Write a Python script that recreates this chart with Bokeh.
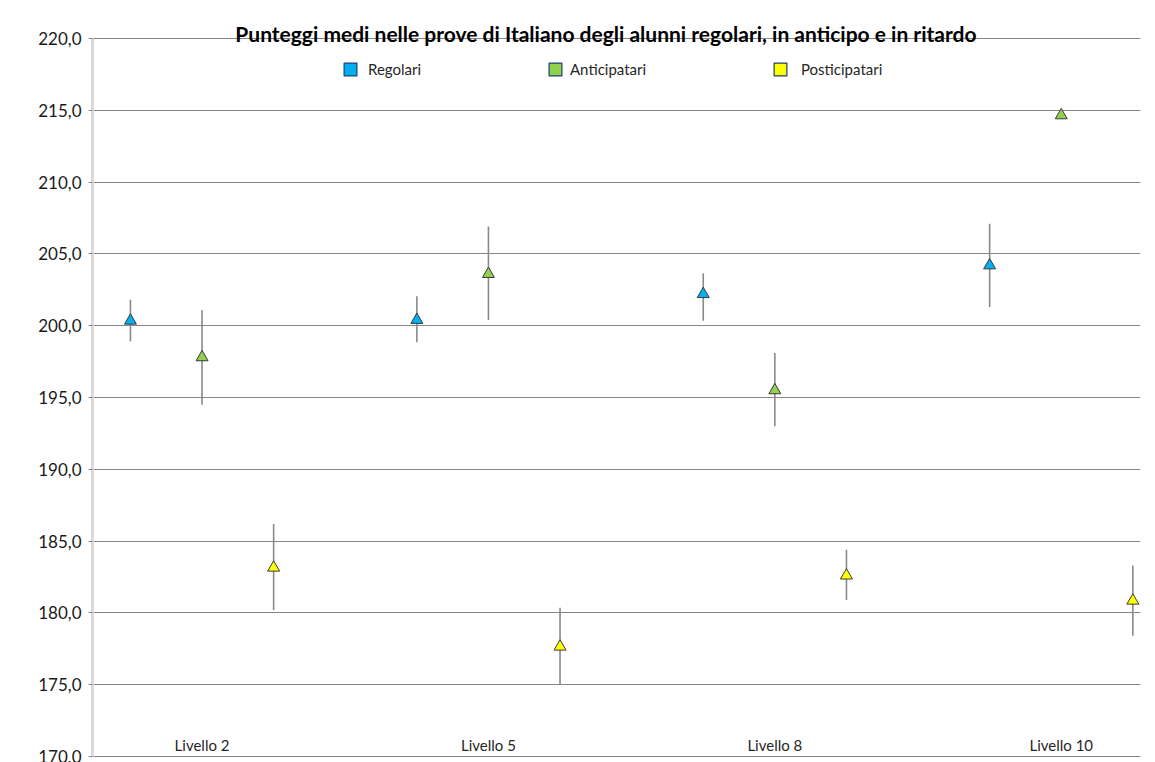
from bokeh.plotting import figure
from bokeh.models import (ColumnDataSource, Range1d, FixedTicker, CustomJSTickFormatter,
                          Legend, LegendItem, Label)
from bokeh.core.properties import value
from bokeh.embed import file_html
from bokeh.resources import INLINE

# ---- data ----
levels = ["Livello 2", "Livello 5", "Livello 8", "Livello 10"]
series = ["Regolari", "Anticipatari", "Posticipatari"]
colors = ["#00B0F0", "#92D050", "#FFFF00"]

regolari_mean = [200.35, 200.4, 202.2, 204.2]
regolari_lo = [198.9, 198.85, 200.35, 201.3]
regolari_hi = [201.8, 202.05, 203.65, 207.1]

anticipatari_mean = [197.8, 203.6, 195.5, 214.65]
anticipatari_lo = [194.5, 200.4, 193.0, 214.55]
anticipatari_hi = [201.1, 206.9, 198.1, 214.75]

posticipatari_mean = [183.15, 177.65, 182.6, 180.85]
posticipatari_lo = [180.2, 175.0, 180.9, 178.4]
posticipatari_hi = [186.2, 180.35, 184.4, 183.3]

y_ticks = [170, 175, 180, 185, 190, 195, 200, 205, 210, 215, 220]

title_text = "Punteggi medi nelle prove di Italiano degli alunni regolari, in anticipo e in  ritardo"

means = [regolari_mean, anticipatari_mean, posticipatari_mean]
los = [regolari_lo, anticipatari_lo, posticipatari_lo]
his = [regolari_hi, anticipatari_hi, posticipatari_hi]

FONT = "Lato"
NAN = float("nan")

p = figure(width=1155, height=762, output_backend="svg", toolbar_location=None,
           x_range=Range1d(-0.53, 14.107), y_range=Range1d(169.582, 222.646),
           min_border_left=92, min_border_right=15, min_border_top=0, min_border_bottom=0)
p.outline_line_color = None
p.background_fill_color = "white"
p.border_fill_color = "white"

p.xaxis.visible = False
p.xgrid.grid_line_color = None

yax = p.yaxis[0]
yax.ticker = FixedTicker(ticks=y_ticks)
yax.bounds = (170, 220)
yax.formatter = CustomJSTickFormatter(code="return tick.toFixed(1).replace('.', ',');")
yax.axis_line_color = "#D9D9D9"
yax.axis_line_width = 3
yax.major_tick_out = 4
yax.major_tick_in = 0
yax.minor_tick_out = 0
yax.minor_tick_in = 0
yax.major_tick_line_color = "#868686"
yax.major_label_text_font = FONT
yax.major_label_text_font_size = "17px"
yax.major_label_text_color = "#1a1a1a"
yax.major_label_standoff = 7

p.ygrid.ticker = FixedTicker(ticks=y_ticks)
p.ygrid.grid_line_color = "#868686"
p.ygrid.grid_line_width = 1

# error bars and markers
for s in range(3):
    xs = [g * 4 + s for g in range(len(levels))]
    src = ColumnDataSource(dict(x=xs, m=means[s], lo=los[s], hi=his[s]))
    p.segment(x0="x", y0="lo", x1="x", y1="hi", source=src,
              line_color="#8a8a8a", line_width=1.6)
for s in range(3):
    xs = [g * 4 + s for g in range(len(levels))]
    src = ColumnDataSource(dict(x=xs, m=means[s]))
    p.scatter(x="x", y="m", source=src, marker="triangle", size=12,
              fill_color=colors[s], line_color="#3a3a3a", line_width=1)

# category labels inside plot
lab_src = ColumnDataSource(dict(x=[g * 4 + 1 for g in range(len(levels))], y=[170.15] * 4, t=levels))
p.text(x="x", y="y", text="t", source=lab_src, text_align="center", text_baseline="bottom",
       text_font=value(FONT), text_font_size="15px", text_color="#262626")

# legend (three separate single-item legends)
leg_x = [250, 455, 680]
standoffs = [10, 7, 13]
for s in range(3):
    r = p.quad(left=[NAN], right=[NAN], top=[NAN], bottom=[NAN], fill_color=colors[s],
               line_color="#1F3F6F", line_width=1.2)
    lg = Legend(items=[LegendItem(label=series[s], renderers=[r])],
                location=(leg_x[s], 684), orientation="horizontal",
                glyph_width=16, glyph_height=16, label_standoff=standoffs[s],
                label_height=16,
                label_text_font=FONT, label_text_font_size="15px",
                label_text_color="#262626", padding=0, margin=0,
                background_fill_alpha=0, border_line_color=None)
    p.add_layout(lg, "center")

# title
title = Label(x=516, y=729, x_units="screen", y_units="screen", text=title_text,
              text_align="center", text_baseline="middle", text_font=FONT,
              text_font_size="21px", text_font_style="bold", text_color="#000000")
p.add_layout(title)

open("out.html", "w").write(file_html(p, INLINE))
